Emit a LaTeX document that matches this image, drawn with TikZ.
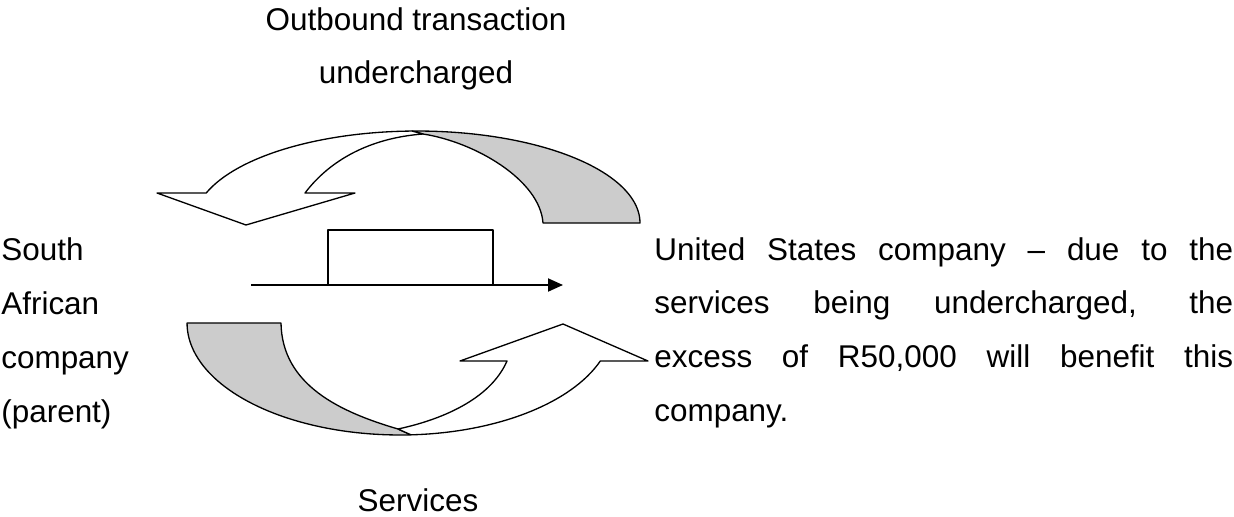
\documentclass[tikz,border=0pt]{standalone}
\usepackage{fontspec}
\setmainfont{Liberation Sans}
\usepackage{tikz}
\usetikzlibrary{arrows.meta,calc}

\begin{document}
\begin{tikzpicture}[x=0.02cm, y=-0.02cm, line join=round,
    lbl/.style={font=\fontsize{17.9pt}{30.6pt}\selectfont, inner sep=0pt},
    band/.style={draw=black, line width=0.75pt},
    backface/.style={band, fill=black!20},
    frontface/.style={band, fill=white}]
            \useasboundingbox (0,0) rectangle (1234,517);
            \coordinate (O1) at (417,223);
            \coordinate (A1) at (640,223);
            \coordinate (A2) at (543,223);
            \coordinate (T) at (423,134);
            \coordinate (Mt) at ($(O1)+(91.28:4.46cm and 1.84cm)$);
            \coordinate (N1) at ($(O1)+(160.97:4.46cm and 1.84cm)$);
            \coordinate (N2) at (305,193);
            \coordinate (B1) at (157,193);
            \coordinate (B2) at (355,193);
            \coordinate (tip1) at (246,225);
            \draw [backface] (A2) -- (A1) arc [start angle=0, end angle=91.28, x radius=4.46cm, y radius=1.84cm]
                -- (T) .. controls (475,142) and (540,180) .. (A2) -- cycle;
            \draw [frontface] (N1) arc [start angle=160.97, end angle=91.28, x radius=4.46cm, y radius=1.84cm]
                -- (T) .. controls (370,138) and (330,160) .. (N2) -- (B2) -- (tip1) -- (B1) -- cycle;
            \coordinate (O2) at (400,323);
            \coordinate (G1) at (187,323);
            \coordinate (G2) at (281,323);
            \coordinate (C) at (398,429);
            \coordinate (Mb) at ($(O2)+(272.96:4.26cm and 2.24cm)$);
            \coordinate (N3) at ($(O2)+(340.17:4.26cm and 2.24cm)$);
            \coordinate (N4) at (507,361);
            \coordinate (B3) at (460,361);
            \coordinate (B4) at (648,361);
            \coordinate (tip2) at (563,324);
            \draw [backface] (G1) -- (G2) .. controls (282,385) and (340,412) .. (C)
                -- (Mb) arc [start angle=272.96, end angle=180, x radius=4.26cm, y radius=2.24cm] -- cycle;
            \draw [frontface] (C) .. controls (440,420) and (490,400) .. (N4) -- (B3) -- (tip2) -- (B4)
                -- (N3) arc [start angle=340.17, end angle=272.96, x radius=4.26cm, y radius=2.24cm] -- cycle;
            \node (box) [draw, line width=1.1pt, inner sep=0pt, minimum width=3.3cm, minimum height=1.1cm] at (410.5,257.5) {};
            \coordinate (lineL) at (251,285);
            \coordinate (lineR) at (563,285);
            \draw [line width=1.1pt, -{Triangle[length=0.3cm, width=0.26cm]}] (lineL) -- (lineR);
            \node (outb) [lbl, anchor=base, align=center] at (416,84) {Outbound transaction\\undercharged};
            \node (serv) [lbl, anchor=base] at (418,511) {Services};
            \node (sa) [lbl, anchor=base west, align=left] at (1,422) {South\\African\\company\\(parent)};
            \node (us) [lbl, anchor=base west, text width=11.58cm, align=justify] at (654,260)
                {United States company -- due to the\linebreak services being undercharged, the\linebreak excess of R50,000 will benefit this\linebreak company.};
\end{tikzpicture}
\end{document}
